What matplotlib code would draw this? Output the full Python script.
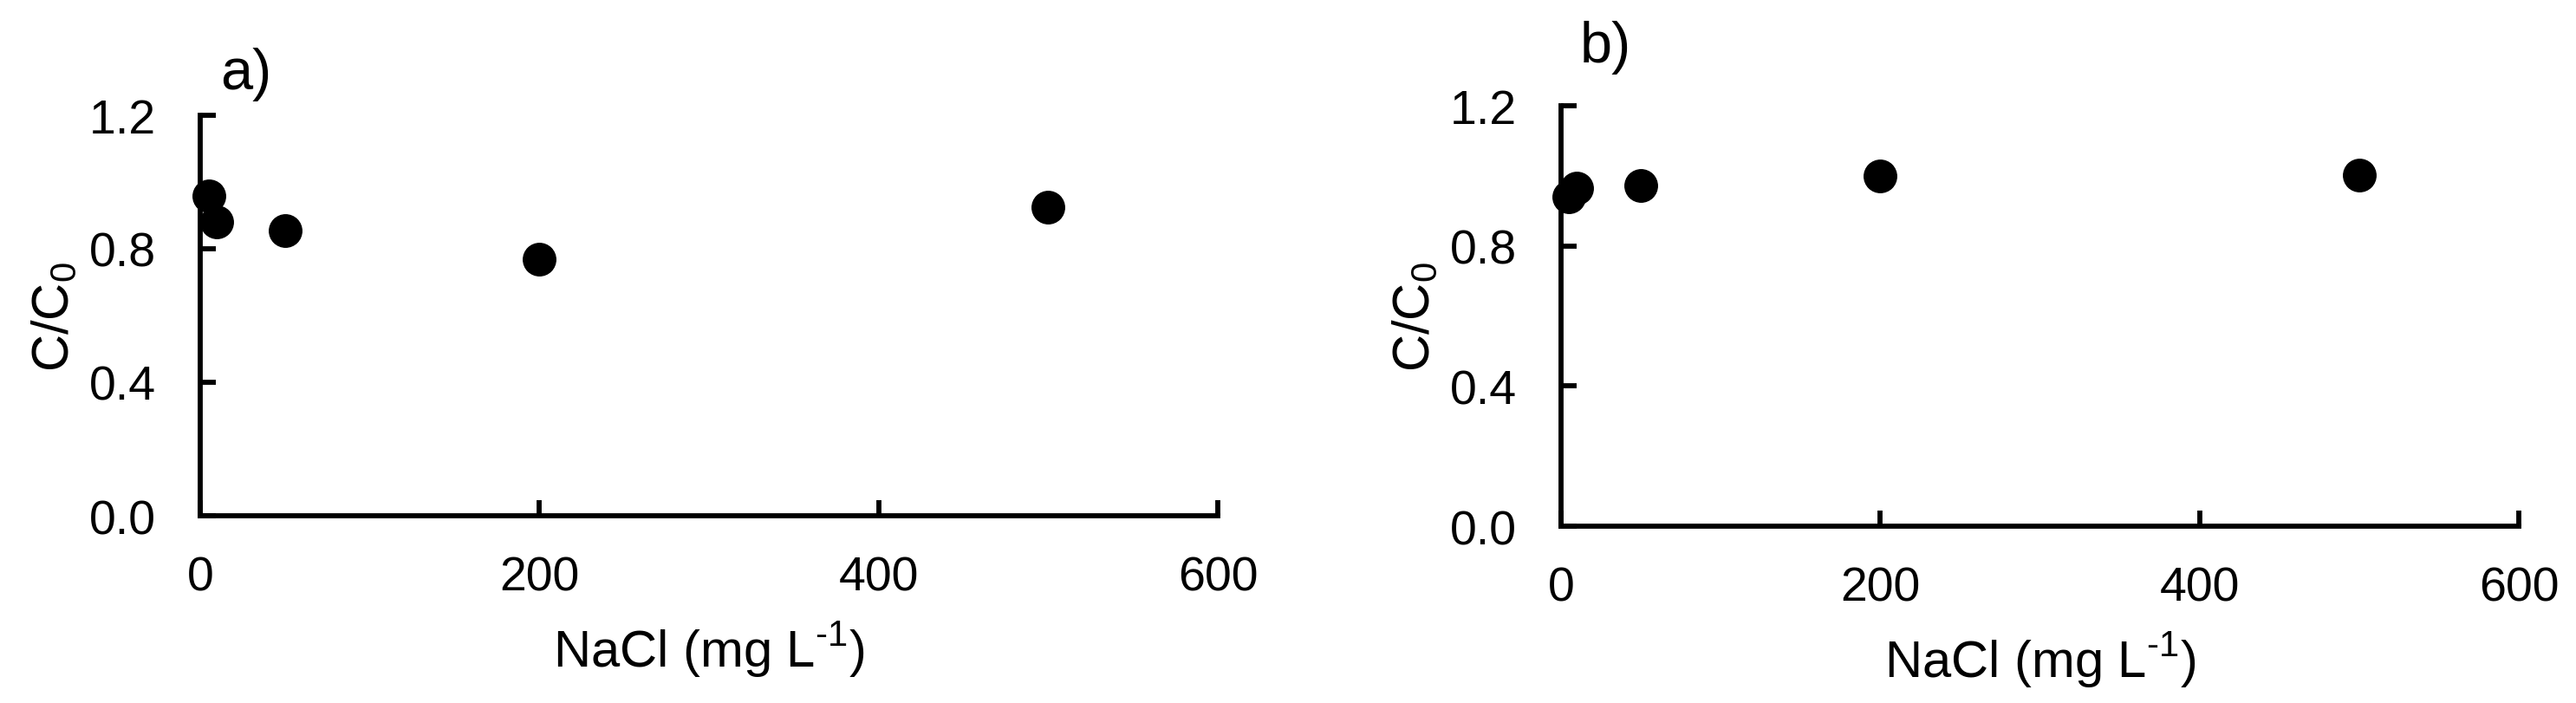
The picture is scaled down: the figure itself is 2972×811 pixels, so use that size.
import matplotlib
matplotlib.use('Agg')
import matplotlib.pyplot as plt

# NaCl concentration (mg/L) and relative concentration C/C0
nacl = [5, 10, 50, 200, 500]
ratio_a = [0.958, 0.881, 0.855, 0.769, 0.925]
ratio_b = [0.940, 0.965, 0.972, 1.000, 1.002]

xticks = [0, 200, 400, 600]
yticks = [0.0, 0.4, 0.8, 1.2]
panel_labels = ['a)', 'b)']

plt.rcParams['font.family'] = ['Liberation Sans', 'DejaVu Sans']
plt.rcParams['mathtext.fontset'] = 'custom'
plt.rcParams['mathtext.rm'] = 'Liberation Sans'

fig = plt.figure(figsize=(29.72, 8.12), dpi=100)
ax_a = fig.add_axes([0.0777, 0.2660, 0.3951, 0.5690])
ax_b = fig.add_axes([0.6060, 0.2512, 0.3718, 0.5973])

for ax, vals, lab, lpad in [(ax_a, ratio_a, panel_labels[0], 1.067),
                            (ax_b, ratio_b, panel_labels[1], 1.105)]:
    ax.plot(nacl, vals, 'o', color='black', markersize=27, clip_on=False, zorder=5)
    ax.set_xlim(0, 600)
    ax.set_ylim(0, 1.2)
    ax.set_xticks(xticks)
    ax.set_yticks(yticks)
    ax.set_yticklabels(['%.1f' % t for t in yticks])
    ax.spines['top'].set_visible(False)
    ax.spines['right'].set_visible(False)
    ax.spines['left'].set_linewidth(4.2)
    ax.spines['bottom'].set_linewidth(4.2)
    ax.tick_params(axis='y', direction='in', length=13, width=4.2, labelsize=40, pad=37)
    ax.tick_params(axis='x', direction='in', length=13, width=4.2, labelsize=40, pad=33)
    ax.set_xlabel('NaCl (mg L$^{\\text{-1}}$)', fontsize=43, labelpad=16)
    ax.set_ylabel('C/C$_{\\mathregular{0}}$', fontsize=43, labelpad=8)
    ax.text(0.02, lpad, lab, transform=ax.transAxes, fontsize=48, ha='left', va='baseline')

plt.savefig('out.png', dpi=100)
